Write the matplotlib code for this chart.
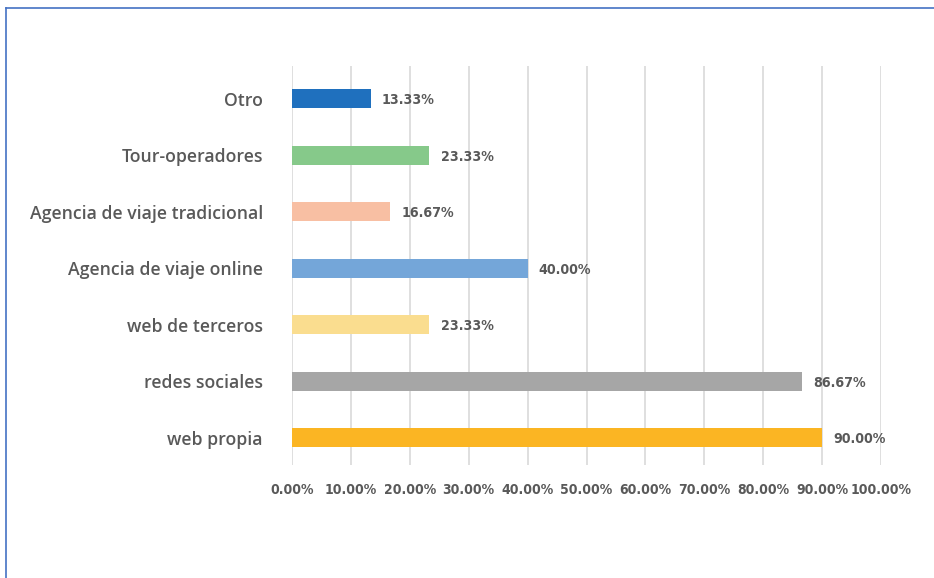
import matplotlib
matplotlib.use("Agg")
import matplotlib.pyplot as plt
from matplotlib.ticker import FuncFormatter
from matplotlib.lines import Line2D

categories = ["web propia", "redes sociales", "web de terceros",
              "Agencia de viaje online", "Agencia de viaje tradicional",
              "Tour-operadores", "Otro"]
values = [90.00, 86.67, 23.33, 40.00, 16.67, 23.33, 13.33]
colors = ["#FBB523", "#A6A6A6", "#FADD8F", "#74A6D9", "#F8BFA3",
          "#86C98A", "#1F70BE"]
x_ticks = [0, 10, 20, 30, 40, 50, 60, 70, 80, 90, 100]

label_color = "#595959"
narrow = ["DejaVu Sans"]

fig = plt.figure(figsize=(9.34, 5.78), dpi=100)
W, H = 934, 578
ax = fig.add_axes([292 / W, (H - 465) / H, 589 / W, (465 - 66) / H])

ypos = list(range(len(categories)))
ax.barh(ypos, values, height=0.34, color=colors, zorder=3)

# value labels just past the end of each bar
for y, v in zip(ypos, values):
    ax.annotate(f"{v:.2f}%", (v, y), xytext=(8, -1), textcoords="offset points",
                va="center", ha="left", fontsize=10.2, fontweight="bold",
                fontstretch="condensed", color=label_color, family=narrow)

ax.set_xlim(0, 100)
ax.set_ylim(-0.48, 6.58)
ax.set_xticks(x_ticks)
ax.xaxis.set_major_formatter(FuncFormatter(lambda v, p: f"{v:.2f}%"))
ax.set_yticks(ypos)
ax.set_yticklabels(categories)
ax.grid(axis="x", color="#D9D9D9", linewidth=1.2, zorder=0)
for s in ax.spines.values():
    s.set_visible(False)
ax.tick_params(axis="both", length=0)
ax.tick_params(axis="y", pad=21)
ax.tick_params(axis="x", pad=13)
for t in ax.get_xticklabels():
    t.set_family(narrow)
    t.set_fontsize(10)
    t.set_fontweight("bold")
    t.set_fontstretch("condensed")
    t.set_color(label_color)
for t in ax.get_yticklabels():
    t.set_family(["Open Sans", "DejaVu Sans"])
    t.set_fontsize(12.7)
    t.set_fontweight("semibold")
    t.set_color(label_color)

# frame lines along the top and left edges
fig.add_artist(Line2D([6 / W, 1], [1 - 8 / H, 1 - 8 / H], color="#4472C4",
                      linewidth=1.2, transform=fig.transFigure))
fig.add_artist(Line2D([6 / W, 6 / W], [0, 1 - 8 / H], color="#4472C4",
                      linewidth=1.2, transform=fig.transFigure))

fig.savefig("out.png", dpi=100)
